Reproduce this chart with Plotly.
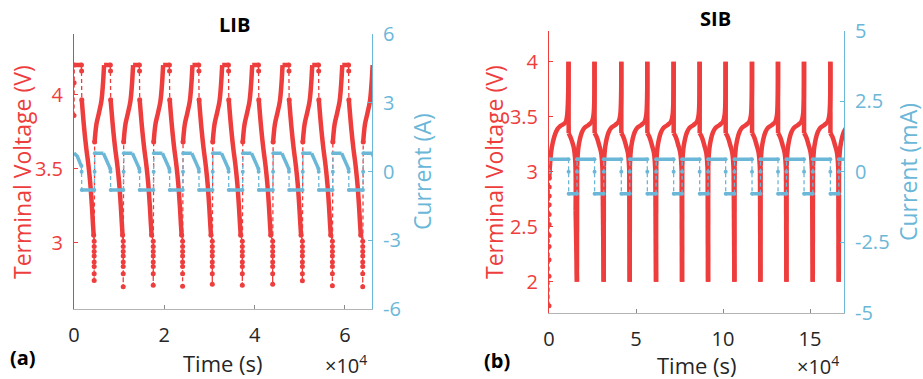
import plotly.graph_objects as go

W, H = 923, 379
RED = "#EE3D3D"
BLUE = "#6BB7D8"
AXIS_GREY = "#B4B4B4"
TEXT_DARK = "#262626"
FONT = "Open Sans"

# ------------------------------------------------------------------ LIB (a)
# charge start of every full cycle (s)
LIB_START = [4510, 10940, 17590, 24090, 30670, 37320, 44040, 50620, 57270, 63990]
# lowest voltage at the discharge cut-off just before each charge start (V)
LIB_MIN_V = [2.745, 2.702, 2.713, 2.706, 2.720, 2.713, 2.720, 2.743, 2.709, 2.702]
# charge curve: time after charge start (s), voltage (V)
LIB_CHG_DT = [60, 450, 1000, 1550, 1900, 2150]
LIB_CHG_V = [3.68, 3.80, 3.875, 3.955, 4.07, 4.20]
LIB_V_MAX = 4.20
LIB_CV_END_DT = 3540
# step from the CV hold to the discharge curve: time after CV end (s), voltage (V)
LIB_STEP_DT = [0, 35, 70]
LIB_STEP_V = [4.20, 4.16, 3.965]
# discharge curve: time after CV end (s), voltage (V)
LIB_DIS_DT = [70, 610, 1060, 1560, 1960, 2310, 2560, 2710]
LIB_DIS_V = [3.965, 3.77, 3.64, 3.52, 3.40, 3.25, 3.12, 3.05]
# sparse samples near the discharge cut-off (V)
LIB_TAIL_V = [3.01, 2.975, 2.94, 2.91, 2.87, 2.84, 2.79]
# samples recorded before the first CV hold
LIB_OPEN_T = [0, 20, 60]
LIB_OPEN_V = [3.86, 4.08, 4.20]
LIB_OPEN_CV_END = 1650
# current (A)
LIB_I_CHG = 0.80
LIB_I_DIS = -0.80
LIB_TAPER_DT = [2000, 2500, 3000, 3540]
LIB_TAPER_I = [0.80, 0.56, 0.32, 0.12]
LIB_OPEN_TAPER_T = [0, 740, 1330, 1650]
LIB_OPEN_TAPER_I = [0.81, 0.67, 0.38, 0.25]
LIB_T_END = 66000

# ------------------------------------------------------------------ SIB (b)
# time of each 2.0 V discharge cut-off, i.e. start of the next charge (s)
SIB_START = [16060, 31420, 46370, 61500, 76450, 91390, 106530, 121470,
             136420, 151560, 166500]
SIB_V_MIN = 2.0
# charge curve: time after charge start (s), voltage (V); ends at the 4.0 V cut-off
SIB_CHG_DT = [120, 920, 2870, 4360, 6650, 8600, 9520, 10090]
SIB_CHG_V = [3.05, 3.23, 3.36, 3.40, 3.425, 3.455, 3.515, 4.00]
# discharge curve: time after the 4.0 V cut-off (s), voltage (V)
SIB_DIS_DT = [0, 60, 1380, 2700, 3840, 4610]
SIB_DIS_V = [4.00, 3.35, 3.31, 3.24, 3.17, 3.015]
# first, partial cycle
SIB_OPEN_T = [0, 15, 30, 45, 60, 75, 90, 105, 120, 135, 150]
SIB_OPEN_V = [1.78, 2.05, 2.20, 2.32, 2.42, 2.52, 2.61, 2.70, 2.78, 2.86, 2.94]
SIB_FIRST_CHG_T = [150, 1720, 4590, 6480, 9350, 10320, 11240]
SIB_FIRST_CHG_V = [2.94, 3.23, 3.38, 3.415, 3.445, 3.50, 4.00]
SIB_FIRST_DIS_DT = [0, 60, 970, 2860, 3840, 4060]
SIB_FIRST_DIS_V = [4.00, 3.35, 3.32, 3.23, 3.10, 2.65]
# current (mA)
SIB_I_CHG = 0.45
SIB_I_DIS = -0.78
SIB_T_END = 169500


def seg(xs, ys, px, py):
    """Append one polyline segment followed by a gap."""
    xs.extend(list(px) + [None])
    ys.extend(list(py) + [None])


# ---------------------------------------------------------------- LIB series
lv_sx, lv_sy, lv_dx, lv_dy = [], [], [], []
li_sx, li_sy, li_dx, li_dy = [], [], [], []

# opening partial cycle
seg(lv_dx, lv_dy, LIB_OPEN_T, LIB_OPEN_V)
seg(lv_sx, lv_sy, [LIB_OPEN_T[-1], LIB_OPEN_CV_END], [LIB_V_MAX, LIB_V_MAX])
cv_ends = [LIB_OPEN_CV_END] + [s + LIB_CV_END_DT for s in LIB_START]
seg(li_sx, li_sy, LIB_OPEN_TAPER_T, LIB_OPEN_TAPER_I)

for k, s in enumerate(LIB_START):
    # charge + CV hold of cycle k
    seg(lv_sx, lv_sy, [s + d for d in LIB_CHG_DT], LIB_CHG_V)
    seg(lv_sx, lv_sy, [s + LIB_CHG_DT[-1], s + LIB_CV_END_DT], [LIB_V_MAX, LIB_V_MAX])
    seg(li_sx, li_sy, [s + 100, s + LIB_TAPER_DT[0]], [LIB_I_CHG, LIB_I_CHG])
    seg(li_sx, li_sy, [s + d for d in LIB_TAPER_DT], LIB_TAPER_I)
    # current step up at the start of the charge
    seg(li_dx, li_dy, [s, s + 50, s + 100], [LIB_I_DIS, 0.0, LIB_I_CHG])

for k, ce in enumerate(cv_ends):
    if ce >= LIB_T_END:
        continue
    seg(lv_dx, lv_dy, [ce + d for d in LIB_STEP_DT], LIB_STEP_V)
    seg(lv_sx, lv_sy, [ce + d for d in LIB_DIS_DT], LIB_DIS_V)
    i_top = LIB_OPEN_TAPER_I[-1] if k == 0 else LIB_TAPER_I[-1]
    seg(li_dx, li_dy, [ce, ce + 35, ce + 70], [i_top, 0.0, LIB_I_DIS])
    nxt = LIB_START[k] if k < len(LIB_START) else LIB_T_END
    seg(li_sx, li_sy, [ce + 70, nxt], [LIB_I_DIS, LIB_I_DIS])
    if k < len(LIB_START):
        t_tail = nxt - 40
        tx = [ce + LIB_DIS_DT[-1]] + [t_tail] * (len(LIB_TAIL_V) + 1) + [nxt + LIB_CHG_DT[0]]
        ty = [LIB_DIS_V[-1]] + LIB_TAIL_V + [LIB_MIN_V[k], LIB_CHG_V[0]]
        seg(lv_dx, lv_dy, tx, ty)

# last charge keeps its current until the end of the record
s_last = LIB_START[-1]
seg(li_sx, li_sy, [s_last + LIB_TAPER_DT[0], LIB_T_END], [LIB_I_CHG, LIB_I_CHG])

# ---------------------------------------------------------------- SIB series
sv_sx, sv_sy, sv_dx, sv_dy = [], [], [], []
si_sx, si_sy, si_dx, si_dy = [], [], [], []

seg(sv_dx, sv_dy, SIB_OPEN_T, SIB_OPEN_V)
seg(sv_sx, sv_sy, SIB_FIRST_CHG_T, SIB_FIRST_CHG_V)
p0 = SIB_FIRST_CHG_T[-1]
seg(sv_sx, sv_sy, [p0 + d for d in SIB_FIRST_DIS_DT[:2]], SIB_FIRST_DIS_V[:2])
seg(sv_sx, sv_sy, [p0 + d for d in SIB_FIRST_DIS_DT[1:]], SIB_FIRST_DIS_V[1:])
seg(sv_sx, sv_sy, [p0 + SIB_FIRST_DIS_DT[-1], SIB_START[0]], [SIB_FIRST_DIS_V[-1], SIB_V_MIN])
seg(si_dx, si_dy, [0, 30, 60], [0.0, 0.0, SIB_I_CHG])
seg(si_sx, si_sy, [60, p0], [SIB_I_CHG, SIB_I_CHG])
seg(si_dx, si_dy, [p0, p0 + 30, p0 + 60], [SIB_I_CHG, 0.0, SIB_I_DIS])
seg(si_sx, si_sy, [p0 + 60, SIB_START[0]], [SIB_I_DIS, SIB_I_DIS])

for k, s in enumerate(SIB_START):
    seg(sv_sx, sv_sy, [s, s + SIB_CHG_DT[0]], [SIB_V_MIN, SIB_CHG_V[0]])
    seg(sv_sx, sv_sy, [s + d for d in SIB_CHG_DT], SIB_CHG_V)
    seg(si_dx, si_dy, [s, s + 40, s + 80], [SIB_I_DIS, 0.0, SIB_I_CHG])
    p = s + SIB_CHG_DT[-1]
    if p >= SIB_T_END:
        seg(si_sx, si_sy, [s + 80, SIB_T_END], [SIB_I_CHG, SIB_I_CHG])
        continue
    seg(si_sx, si_sy, [s + 80, p], [SIB_I_CHG, SIB_I_CHG])
    seg(si_dx, si_dy, [p, p + 30, p + 60], [SIB_I_CHG, 0.0, SIB_I_DIS])
    seg(sv_sx, sv_sy, [p + d for d in SIB_DIS_DT[:2]], SIB_DIS_V[:2])
    seg(sv_sx, sv_sy, [p + d for d in SIB_DIS_DT[1:]], SIB_DIS_V[1:])
    nxt = SIB_START[k + 1] if k + 1 < len(SIB_START) else SIB_T_END
    seg(sv_sx, sv_sy, [p + SIB_DIS_DT[-1], nxt], [SIB_DIS_V[-1], SIB_V_MIN])
    seg(si_sx, si_sy, [p + 60, nxt], [SIB_I_DIS, SIB_I_DIS])

# ---------------------------------------------------------------- figure
fig = go.Figure()


def solid(x, y, color, width, xa, ya, shape="spline"):
    fig.add_trace(go.Scatter(x=x, y=y, xaxis=xa, yaxis=ya, mode="lines",
                             line=dict(color=color, width=width, shape=shape),
                             hoverinfo="skip", connectgaps=False))


def sparse(x, y, color, xa, ya, msize):
    fig.add_trace(go.Scatter(x=x, y=y, xaxis=xa, yaxis=ya, mode="lines+markers",
                             line=dict(color=color, width=1.3, dash="4px,3px"),
                             marker=dict(color=color, size=msize),
                             hoverinfo="skip", connectgaps=False))


solid(lv_sx, lv_sy, RED, 4.5, "x", "y")
sparse(lv_dx, lv_dy, RED, "x", "y", 5)
solid(li_sx, li_sy, BLUE, 3.5, "x", "y2", shape="linear")
sparse(li_dx, li_dy, BLUE, "x", "y2", 4)

solid(sv_sx, sv_sy, RED, 4.5, "x2", "y3")
sparse(sv_dx, sv_dy, RED, "x2", "y3", 5)
solid(si_sx, si_sy, BLUE, 3.5, "x2", "y4", shape="linear")
sparse(si_dx, si_dy, BLUE, "x2", "y4", 4)


def px_x(p):
    return p / W


def px_y(p):
    return 1 - p / H


TICK_SIZE = 20
TITLE_SIZE = 23

xcommon = dict(showgrid=False, zeroline=False, showline=True, linecolor=AXIS_GREY,
               linewidth=1, ticks="inside", ticklen=4, tickcolor="#8A8A8A",
               tickfont=dict(family=FONT, size=TICK_SIZE, color=TEXT_DARK),
               ticklabelstandoff=8, automargin=False)


def ycommon(color):
    return dict(showgrid=False, zeroline=False, showline=True, linecolor=color,
                linewidth=1, ticks="inside", ticklen=4, tickcolor=color,
                tickfont=dict(family=FONT, size=TICK_SIZE, color=color),
                ticklabelstandoff=6, automargin=False)


fig.update_layout(
    width=W, height=H, margin=dict(l=0, r=0, t=0, b=0, autoexpand=False),
    paper_bgcolor="white", plot_bgcolor="white", showlegend=False,
    font=dict(family=FONT),
    xaxis=dict(domain=[px_x(74), px_x(372)], range=[0, LIB_T_END], anchor="y",
               tickvals=[0, 20000, 40000, 60000], ticktext=["0", "2", "4", "6"], **xcommon),
    yaxis=dict(domain=[px_y(309.3), px_y(34)], range=[2.55, 4.41], anchor="x",
               tickvals=[3, 3.5, 4], ticktext=["3", "3.5", "4"], **ycommon(RED)),
    yaxis2=dict(overlaying="y", side="right", anchor="x", range=[-6, 6],
                tickvals=[-6, -3, 0, 3, 6], ticktext=["-6", "-3", "0", "3", "6"],
                **ycommon(BLUE)),
    xaxis2=dict(domain=[px_x(549), px_x(844)], range=[0, SIB_T_END], anchor="y3",
                tickvals=[0, 50000, 100000, 150000], ticktext=["0", "5", "10", "15"],
                **xcommon),
    yaxis3=dict(domain=[px_y(313), px_y(30.7)], range=[1.715, 4.282], anchor="x2",
                tickvals=[2, 2.5, 3, 3.5, 4], ticktext=["2", "2.5", "3", "3.5", "4"],
                **ycommon(RED)),
    yaxis4=dict(overlaying="y3", side="right", anchor="x2", range=[-5, 5],
                tickvals=[-5, -2.5, 0, 2.5, 5], ticktext=["-5", "-2.5", "0", "2.5", "5"],
                **ycommon(BLUE)),
)


def note(text, x, y, size, color=TEXT_DARK, bold=False, angle=0, xanchor="center"):
    if bold:
        text = "<b>" + text + "</b>"
    fig.add_annotation(text=text, x=px_x(x), y=px_y(y), xref="paper", yref="paper",
                       showarrow=False, xanchor=xanchor, yanchor="middle",
                       textangle=angle,
                       font=dict(family=FONT, size=size, color=color))


note("LIB", 234, 24, 20, color="black", bold=True)
note("SIB", 715, 18, 20, color="black", bold=True)
note("(a)", 23, 357, 20, color="black", bold=True)
note("(b)", 497, 360, 20, color="black", bold=True)
note("Time (s)", 223, 363, 22)
note("Time (s)", 697, 365, 22)
note("×10<sup>4</sup>", 346, 364, TICK_SIZE)
note("×10<sup>4</sup>", 818, 365, TICK_SIZE)
note("Terminal Voltage (V)", 22, 172, TITLE_SIZE, color=RED, angle=-90)
note("Current (A)", 422, 172, TITLE_SIZE, color=BLUE, angle=-90)
note("Terminal Voltage (V)", 494, 172, TITLE_SIZE, color=RED, angle=-90)
note("Current (mA)", 908, 172, TITLE_SIZE, color=BLUE, angle=-90)

fig.write_html("out.html")
